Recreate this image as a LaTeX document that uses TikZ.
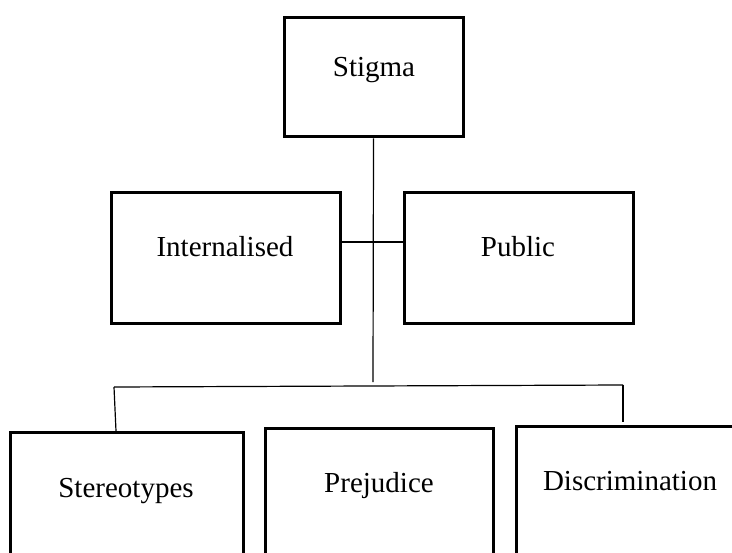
\documentclass[tikz,border=0pt]{standalone}
\usepackage{fontspec}
\setmainfont{Liberation Serif}
\tikzset{
  box/.style={draw=black, line width=3bp, rectangle, inner sep=0pt},
  lbl/.style={inner sep=0pt, anchor=base, font=\fontsize{29bp}{34bp}\selectfont},
  conn/.style={draw=black, line width=1.2bp}
}
\begin{document}
\begin{tikzpicture}[x=1bp,y=-1bp]
\path[use as bounding box, clip] (0,0) rectangle (732,553);
\fill[white] (0,0) rectangle (732,553);
% boxes
\node[box, minimum width=179bp, minimum height=119bp] (stigma) at (373.5,77.5) {};
\node[box, minimum width=229bp, minimum height=130bp] (intern) at (225.5,258) {};
\node[box, minimum width=229bp, minimum height=130bp] (public) at (518.5,258) {};
\node[box, minimum width=232bp, minimum height=200bp] (stereo) at (127,532) {};
\node[box, minimum width=228bp, minimum height=200bp] (prej) at (379,528) {};
\node[box, minimum width=232bp, minimum height=200bp] (discr) at (632,526) {};
% labels
\node[lbl] (tstigma) at (374,77) {Stigma};
\node[lbl] (tintern) at (225,257) {Internalised};
\node[lbl] (tpublic) at (518,257) {Public};
\node[lbl] (tstereo) at (126,497) {Stereotypes};
\node[lbl] (tprej) at (379,492) {Prejudice};
\node[lbl] (tdiscr) at (630,490) {Discrimination};
% connector coordinates
\coordinate (mid) at (373,242);
\coordinate (trunkend) at (373,382);
\coordinate (bl) at (114,387);
\coordinate (br) at (623,385);
\coordinate (blend) at (116,431);
\coordinate (brend) at (623,422);
% connectors
\draw[conn] (stigma.south) -- (trunkend);
\draw[conn] (intern.east |- mid) -- (public.west |- mid);
\draw[conn] (bl) -- (br);
\draw[conn] (bl) -- (blend);
\draw[conn] (br) -- (brend);
\end{tikzpicture}
\end{document}
